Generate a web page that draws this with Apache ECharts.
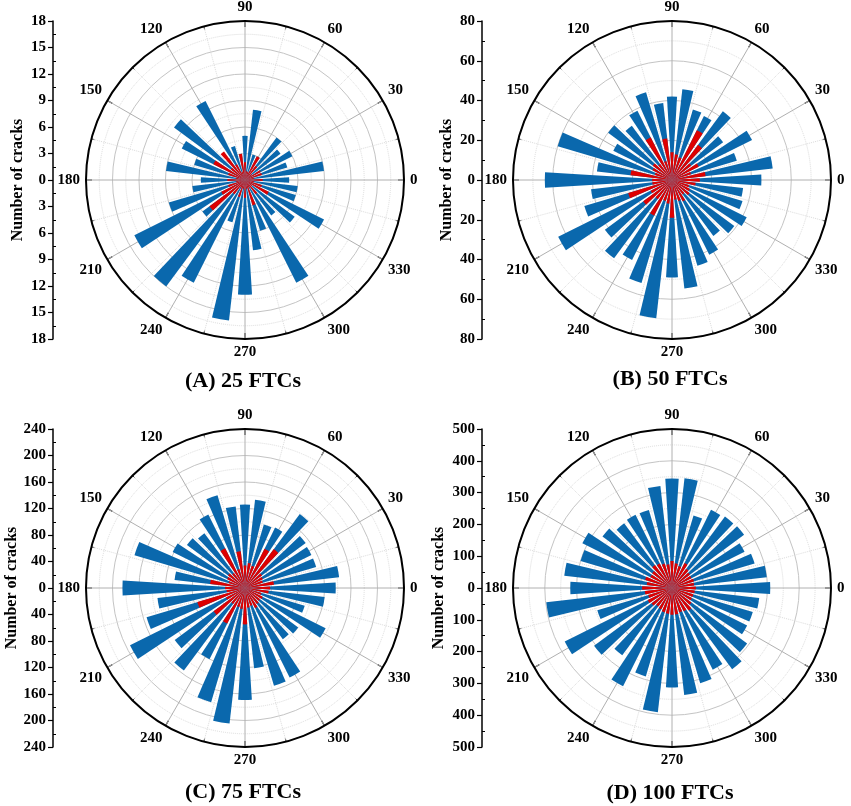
<!DOCTYPE html>
<html>
<head>
<meta charset="utf-8">
<script src="https://cdn.jsdelivr.net/npm/echarts@6/dist/echarts.min.js"></script>
<style>
  html, body { margin: 0; padding: 0; background: #fff; }
  #chart { width: 851px; height: 806px; }
</style>
</head>
<body>
<div id="chart"></div>
<script>
// direction bins (degrees), 10 deg each
const binAngles = ["0", "10", "20", "30", "40", "50", "60", "70", "80", "90", "100", "110",
  "120", "130", "140", "150", "160", "170", "180", "190", "200", "210", "220", "230",
  "240", "250", "260", "270", "280", "290", "300", "310", "320", "330", "340", "350"];

// crack counts per bin: blue = all cracks, red = highlighted subset
const blueA = [5, 9, 5, 6, 5, 6, 3, 3, 8, 5, 3, 4, 10, 3, 10, 8, 6, 9, 5, 6, 9, 14, 6, 15, 13, 5, 16, 13, 8, 6, 13, 5, 7, 10, 6, 6];
const redA = [2, 1, 2, 2, 1, 2, 3, 1, 1, 2, 3, 1, 2, 4, 2, 4, 2, 1, 2, 1, 2, 3, 5, 2, 1, 2, 1, 2, 1, 3, 1, 2, 1, 3, 2, 1];

const blueB = [45, 51, 34, 45, 32, 43, 36, 37, 46, 42, 39, 46, 39, 34, 40, 33, 60, 38, 64, 41, 46, 64, 42, 49, 45, 54, 70, 49, 55, 45, 42, 35, 39, 42, 37, 36];
const redB = [14, 17, 10, 15, 12, 22, 28, 12, 13, 14, 21, 10, 24, 10, 12, 11, 9, 21, 10, 10, 23, 12, 18, 12, 20, 11, 12, 19, 10, 11, 12, 9, 11, 10, 9, 12];

const blueC = [137, 143, 112, 112, 114, 139, 102, 100, 134, 126, 124, 146, 124, 103, 109, 122, 174, 107, 185, 133, 155, 194, 132, 155, 120, 180, 206, 169, 122, 154, 151, 96, 100, 136, 94, 121];
const redC = [38, 44, 28, 30, 32, 73, 66, 35, 38, 34, 56, 30, 67, 28, 32, 30, 26, 53, 30, 28, 75, 32, 59, 30, 60, 30, 32, 55, 30, 28, 34, 30, 28, 30, 26, 36];

const blueD = [309, 300, 271, 255, 282, 280, 275, 238, 347, 344, 323, 256, 257, 253, 272, 315, 300, 341, 320, 398, 245, 377, 305, 263, 345, 290, 393, 313, 339, 312, 287, 318, 294, 264, 265, 276];
const redD = [75, 70, 72, 68, 70, 75, 88, 72, 78, 85, 75, 80, 86, 90, 78, 76, 88, 80, 94, 86, 78, 85, 80, 72, 75, 80, 82, 84, 84, 80, 82, 88, 76, 70, 70, 72];

const panelTitles = ["(A) 25 FTCs", "(B) 50 FTCs", "(C) 75 FTCs", "(D) 100 FTCs"];
const radiusMax = [18, 80, 240, 500];
const radiusStep = [3, 20, 40, 100];

const blueSets = [blueA, blueB, blueC, blueD];
const redSets = [redA, redB, redC, redD];

// layout
const panelCenters = [[245, 180], [672, 180], [245, 588], [672, 588]];
const axisLeft = [53, 482, 53, 482];
const nameGaps = [27, 27, 33, 35];
const titleY = [381, 379, 792, 793];
const polarRadius = 159;

const FONT = "Liberation Serif";
const BLUE = "#0a68ad";
const RED = "#dd0000";

function buildOption() {
  const polar = [];
  const angleAxis = [];
  const radiusAxis = [];
  const grid = [];
  const xAxis = [];
  const yAxis = [];
  const series = [];
  const graphic = [];

  panelTitles.forEach((title, k) => {
    const [cx, cy] = panelCenters[k];
    const max = radiusMax[k];
    const step = radiusStep[k];

    // polar used for the grid, ticks and angle labels
    polar.push({ center: [cx, cy], radius: polarRadius });
    angleAxis.push({
      polarIndex: 2 * k,
      type: "value",
      min: 0,
      max: 360,
      interval: 30,
      startAngle: 0,
      clockwise: false,
      z: 0,
      axisLine: { lineStyle: { color: "#000", width: 2 } },
      axisTick: { inside: true, length: 6, lineStyle: { color: "#000", width: 1.2 } },
      minorTick: { show: true, splitNumber: 2, length: 3, lineStyle: { color: "#000", width: 1 } },
      axisLabel: {
        margin: 6,
        color: "#000",
        fontFamily: FONT,
        fontWeight: "bold",
        fontSize: 15,
        formatter: (v) => (v === 360 ? "" : String(v))
      },
      splitLine: { lineStyle: { color: "#b0b0b0", width: 1 } },
      minorSplitLine: { show: true, lineStyle: { color: "#dcdcdc", type: "dotted", width: 1 } }
    });
    radiusAxis.push({
      polarIndex: 2 * k,
      type: "value",
      min: 0,
      max: max,
      interval: step,
      z: 0,
      axisLine: { show: false },
      axisTick: { show: false },
      axisLabel: { show: false },
      splitLine: { lineStyle: { color: "#c4c4c4", width: 1 } },
      minorSplitLine: { show: true, lineStyle: { color: "#dcdcdc", type: "dotted", width: 1 } },
      minorTick: { show: false, splitNumber: 2 }
    });

    // polar carrying the rose bars
    polar.push({ center: [cx, cy], radius: polarRadius });
    angleAxis.push({
      polarIndex: 2 * k + 1,
      type: "category",
      data: binAngles,
      startAngle: 355,
      clockwise: false,
      axisLine: { show: false },
      axisTick: { show: false },
      axisLabel: { show: false },
      splitLine: { show: false }
    });
    radiusAxis.push({
      polarIndex: 2 * k + 1,
      type: "value",
      min: 0,
      max: max,
      axisLine: { show: false },
      axisTick: { show: false },
      axisLabel: { show: false },
      splitLine: { show: false }
    });

    series.push({
      type: "bar",
      coordinateSystem: "polar",
      polarIndex: 2 * k + 1,
      data: blueSets[k],
      barCategoryGap: "30%",
      barGap: "-100%",
      itemStyle: { color: BLUE },
      z: 3
    });
    series.push({
      type: "bar",
      coordinateSystem: "polar",
      polarIndex: 2 * k + 1,
      data: redSets[k],
      barCategoryGap: "30%",
      barGap: "-100%",
      itemStyle: { color: RED },
      z: 4
    });

    // left scale "Number of cracks"
    grid.push({ left: axisLeft[k], top: cy - polarRadius, width: 10, height: 2 * polarRadius });
    xAxis.push({ gridIndex: k, type: "value", show: false });
    yAxis.push({
      gridIndex: k,
      type: "value",
      position: "left",
      min: -max,
      max: max,
      interval: step,
      name: "Number of cracks",
      nameLocation: "middle",
      nameRotate: 90,
      nameGap: nameGaps[k],
      nameTextStyle: { color: "#000", fontFamily: FONT, fontWeight: "bold", fontSize: 16 },
      axisLine: { show: true, lineStyle: { color: "#000", width: 1.5 } },
      axisTick: { show: true, inside: false, length: 5, lineStyle: { color: "#000", width: 1.2 } },
      axisLabel: {
        margin: 7,
        color: "#000",
        fontFamily: FONT,
        fontWeight: "bold",
        fontSize: 15,
        formatter: (v) => String(Math.abs(v))
      },
      splitLine: { show: false }
    });
    yAxis.push({
      gridIndex: k,
      type: "value",
      position: "left",
      min: -max,
      max: max,
      interval: step,
      axisLine: { show: false },
      axisTick: { show: false, inside: true },
      minorTick: { show: true, splitNumber: 2, length: 3, lineStyle: { color: "#000", width: 1 } },
      axisLabel: { show: false },
      splitLine: { show: false }
    });

    graphic.push({
      type: "text",
      x: cx - 2,
      y: titleY[k],
      style: {
        text: title,
        font: "bold 22px '" + FONT + "'",
        fill: "#000",
        align: "center",
        verticalAlign: "middle",
        textAlign: "center",
        textVerticalAlign: "middle"
      }
    });
  });

  return {
    backgroundColor: "#fff",
    animation: false,
    polar,
    angleAxis,
    radiusAxis,
    grid,
    xAxis,
    yAxis,
    series,
    graphic
  };
}

const chart = echarts.init(document.getElementById("chart"));
chart.setOption(buildOption());
</script>
</body>
</html>
